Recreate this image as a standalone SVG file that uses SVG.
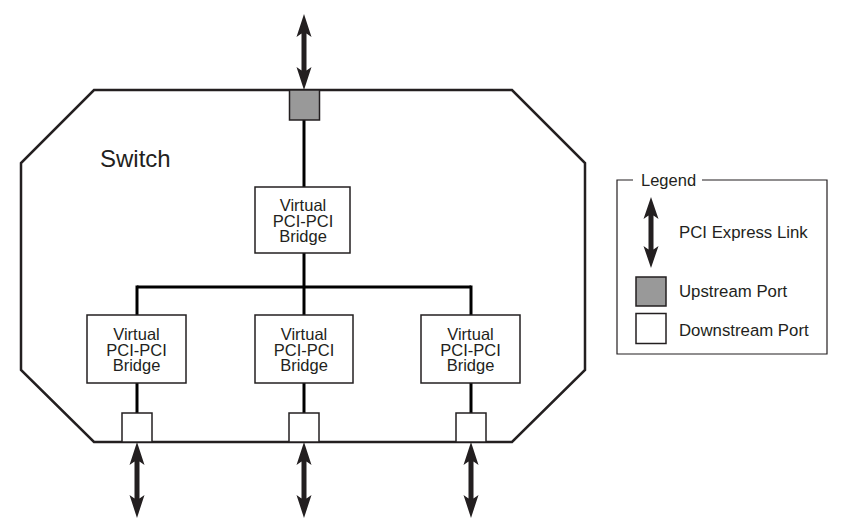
<svg xmlns="http://www.w3.org/2000/svg" width="854" height="525" viewBox="0 0 854 525">
<style>
.txt{font-family:"Liberation Sans",Arial,sans-serif;fill:#231f20}
.box{fill:#fff;stroke:#231f20;stroke-width:1.5}
.up{fill:#999;stroke:#231f20;stroke-width:1.5}
.wire{stroke:#000;stroke-width:3;fill:none}
.arrow{fill:#231f20}
</style>
<defs>
<path id="arr" d="M0,0 L7.5,23 L2.5,19.5 L2.5,56.5 L7.5,53 L0,76 L-7.5,53 L-2.5,56.5 L-2.5,19.5 L-7.5,23 Z"/>
</defs>
<rect width="854" height="525" fill="#fff"/>
<g id="switch">
<polygon points="94,90 512,90 585,163 585,370 512,442 94,442 21,370 21,163" fill="#fff" stroke="#231f20" stroke-width="2.5"/>
<text class="txt" x="100" y="167" font-size="24">Switch</text>
</g>
<g id="connectors">
<line class="wire" x1="304" y1="120" x2="304" y2="187"/>
<line class="wire" x1="304" y1="253" x2="304" y2="315"/>
<line class="wire" x1="137" y1="287" x2="471" y2="287"/>
<line class="wire" x1="137" y1="285.5" x2="137" y2="315"/>
<line class="wire" x1="471" y1="285.5" x2="471" y2="315"/>
<line class="wire" x1="137" y1="383" x2="137" y2="413"/>
<line class="wire" x1="304" y1="383" x2="304" y2="413"/>
<line class="wire" x1="471" y1="383" x2="471" y2="413"/>
<use href="#arr" class="arrow" x="304" y="14"/>
<use href="#arr" class="arrow" x="137" y="442"/>
<use href="#arr" class="arrow" x="304" y="442"/>
<use href="#arr" class="arrow" x="471" y="442"/>
</g>
<g id="upstream-port">
<rect class="up" x="289.5" y="90" width="30" height="30"/>
</g>
<g id="bridge-up">
<rect class="box" x="255" y="187" width="95" height="66"/>
<text class="txt" font-size="16.5" text-anchor="middle"><tspan x="303" y="211">Virtual</tspan><tspan x="303" y="227">PCI-PCI</tspan><tspan x="303" y="242">Bridge</tspan></text>
</g>
<g id="bridge-d1">
<rect class="box" x="87" y="315" width="99" height="68"/>
<text class="txt" font-size="16.5" text-anchor="middle"><tspan x="136.5" y="340">Virtual</tspan><tspan x="136.5" y="356">PCI-PCI</tspan><tspan x="136.5" y="371">Bridge</tspan></text>
</g>
<g id="bridge-d2">
<rect class="box" x="255" y="315" width="98" height="68"/>
<text class="txt" font-size="16.5" text-anchor="middle"><tspan x="304" y="340">Virtual</tspan><tspan x="304" y="356">PCI-PCI</tspan><tspan x="304" y="371">Bridge</tspan></text>
</g>
<g id="bridge-d3">
<rect class="box" x="421" y="315" width="99" height="68"/>
<text class="txt" font-size="16.5" text-anchor="middle"><tspan x="470.5" y="340">Virtual</tspan><tspan x="470.5" y="356">PCI-PCI</tspan><tspan x="470.5" y="371">Bridge</tspan></text>
</g>
<g id="port-d1"><rect class="box" x="122" y="413" width="30" height="29"/></g>
<g id="port-d2"><rect class="box" x="289" y="413" width="30" height="29"/></g>
<g id="port-d3"><rect class="box" x="456" y="413" width="30" height="29"/></g>
<g id="legend">
<polyline points="633,180 617,180 617,354 827,354 827,180 702,180" fill="none" stroke="#231f20" stroke-width="1.2"/>
<text class="txt" x="641" y="186" font-size="16.5">Legend</text>
<path class="arrow" d="M651,197 L658.5,219 L653.5,215.5 L653.5,249.5 L658.5,246 L651,268 L643.5,246 L648.5,249.5 L648.5,215.5 L643.5,219 Z"/>
<text class="txt" x="679" y="238" font-size="16.8">PCI Express Link</text>
<rect class="up" x="636" y="277" width="30" height="29"/>
<text class="txt" x="679" y="297" font-size="16.8">Upstream Port</text>
<rect class="box" x="636" y="313.5" width="30" height="30"/>
<text class="txt" x="679" y="336" font-size="16.8">Downstream Port</text>
</g>
</svg>
